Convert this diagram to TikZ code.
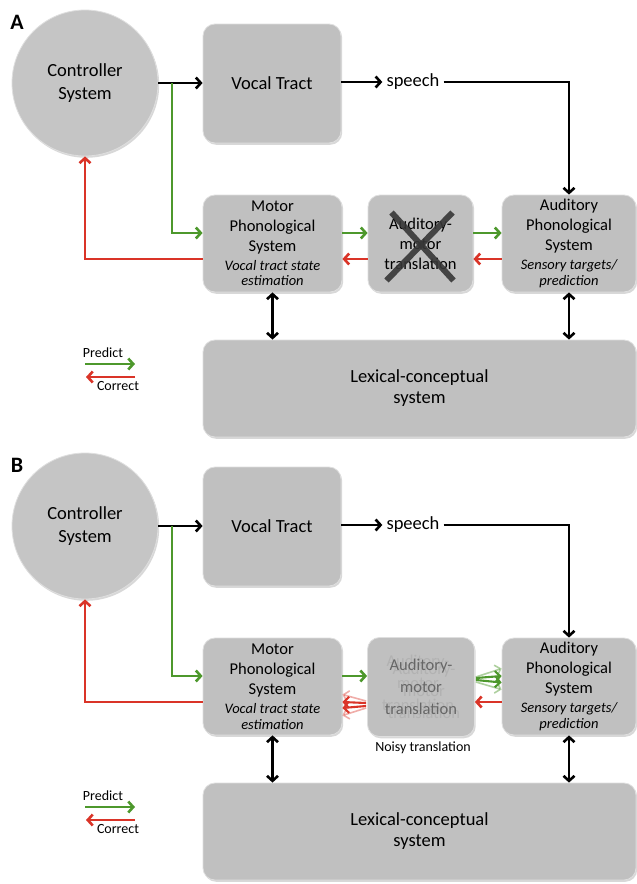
\documentclass[tikz,border=0pt]{standalone}
\usepackage{fontspec}
\setmainfont{Carlito}
\usetikzlibrary{arrows.meta,shadows,calc}
\definecolor{boxgray}{RGB}{192,192,192}
\definecolor{circgray}{RGB}{197,197,197}
\definecolor{pgreen}{RGB}{77,152,44}
\definecolor{pred}{RGB}{218,52,40}
\definecolor{xgray}{RGB}{55,55,55}
\tikzset{
  boxshape/.style={rounded corners=12pt, fill=boxgray, draw=white!75!gray, line width=0.8pt,
    drop shadow={shadow xshift=1.2pt,shadow yshift=-1.8pt,opacity=0.3},
    align=center, inner sep=0pt, font=\fontsize{16.5}{20}\selectfont},
  ctrlshape/.style={circle, fill=circgray, draw=white!75!gray, line width=0.8pt,
    drop shadow={shadow xshift=1.2pt,shadow yshift=-1.8pt,opacity=0.3},
    minimum size=146pt, inner sep=0pt, align=center, font=\fontsize{18.5}{23}\selectfont},
  bigtxt/.style={font=\fontsize{18.5}{22}\selectfont, align=center},
  smalltxt/.style={font=\fontsize{14}{16}\selectfont, align=center},
  tip/.style={-{Straight Barb[length=5pt,width=11pt]}},
  blk/.style={tip, line width=2.6pt, black},
  dbl/.style={{Straight Barb[length=5pt,width=11pt]}-{Straight Barb[length=5pt,width=11pt]}, line width=2.6pt, black},
  grn/.style={tip, line width=2.6pt, pgreen},
  rd/.style={tip, line width=2.6pt, pred},
  amtext/.style={font=\fontsize{16.5}{22}\selectfont, align=center},
}
\newcommand{\itl}[1]{{\fontsize{14.5}{15.5}\selectfont\itshape #1}}
\newcommand{\panelbase}[2]{%
  \node[font=\bfseries\fontsize{22}{26}\selectfont] (#1lab) at (17,22) {#2};
  \node[ctrlshape] (#1ctrl) at (85,83) {Controller\\System};
  \node[boxshape, minimum width=138pt, minimum height=119pt, font=\fontsize{18.5}{22}\selectfont] (#1vt) at (272,83.5) {Vocal Tract};
  \node[bigtxt, inner sep=4pt] (#1sp) at (413,82) {speech};
  \node[boxshape, minimum width=139pt, minimum height=97pt] (#1motor) at (272.5,243.5)
     {Motor\\Phonological\\System\\[-1pt]\itl{Vocal tract state}\\[-4.5pt]\itl{estimation}};
  \node[boxshape, minimum width=134pt, minimum height=97pt] (#1aud) at (569,243.5)
     {Auditory\\Phonological\\System\\[-1pt]\itl{Sensory targets/}\\[-4.5pt]\itl{prediction}};
  \node[boxshape, minimum width=433pt, minimum height=97pt, font=\fontsize{18.5}{21}\selectfont] (#1lex) at (419.5,388.5)
     {Lexical-conceptual\\system};
  % connectors
  \coordinate (#1br) at (172,83);
  \draw[blk] (#1ctrl.east) -- (#1vt.west |- #1ctrl.east);
  \coordinate (#1mgin) at ($(#1motor.west)+(0,-10.5)$);
  \draw[grn] (#1br) |- (#1mgin);
  \coordinate (#1mred) at ($(#1motor.west)+(0,15.5)$);
  \draw[rd] (#1mred) -| (#1ctrl.south);
  \draw[blk] (#1vt.east |- #1sp.west) -- (#1sp.west);
  \draw[blk] (#1sp.east) -| (#1aud.north);
  \draw[dbl] (#1motor.south) -- (#1motor.south |- #1lex.north);
  \draw[dbl] (#1aud.south) -- (#1aud.south |- #1lex.north);
  % legend
  \node[smalltxt] (#1pred) at (103,353) {Predict};
  \coordinate (#1pg1) at (85,364);
  \coordinate (#1pg2) at (135,364);
  \draw[grn] (#1pg1) -- (#1pg2);
  \coordinate (#1pr1) at (135,377);
  \coordinate (#1pr2) at (86,377);
  \draw[rd] (#1pr1) -- (#1pr2);
  \node[smalltxt] (#1corr) at (118,386) {Correct};
}
\begin{document}
\begin{tikzpicture}[x=1pt,y=-1pt]
\useasboundingbox[fill=white] (0,0) rectangle (637,884);
% ---------------- Panel A
\panelbase{a}{A}
\node[boxshape, minimum width=105pt, minimum height=97pt] (aam) at (420.5,243.5)
   {Auditory-\\motor\\translation};
\draw[xgray, line width=6pt, opacity=0.9] ($(aam.center)+(-29,-31)$) -- ($(aam.center)+(33,37)$);
\draw[xgray, line width=6pt, opacity=0.9] ($(aam.center)+(32,-31)$) -- ($(aam.center)+(-34,37)$);
\coordinate (ag1) at ($(amotor.east)+(0,-10.5)$);
\coordinate (ag2) at ($(aam.east)+(0,-10.5)$);
\draw[grn] (ag1) -- (aam.west |- ag1);
\draw[grn] (ag2) -- (aaud.west |- ag2);
\coordinate (ar1) at ($(aaud.west)+(0,15.5)$);
\coordinate (ar2) at ($(aam.west)+(0,15.5)$);
\draw[rd] (ar1) -- (aam.east |- ar1);
\draw[rd] (ar2) -- (amotor.east |- ar2);
% ---------------- Panel B
\begin{scope}[shift={(0,443)}]
\panelbase{b}{B}
\node[boxshape, minimum width=107pt, minimum height=99pt] (bam) at (421,244) {};
\node[amtext, text=black!30] (bamt1) at ($(bam.center)+(-3,-4)$) {Auditory-\\motor\\translation};
\node[amtext, text=black!30] (bamt2) at ($(bam.center)+(3,4)$) {Auditory-\\motor\\translation};
\node[amtext, text=black!60] (bamt) at (bam.center) {Auditory-\\motor\\translation};
\node[smalltxt] (bnoisy) at (423,305) {Noisy translation};
% green motor -> am
\coordinate (bg1) at ($(bmotor.east)+(0,-10.5)$);
\draw[grn] (bg1) -- (bam.west |- bg1);
% fanned green am -> aud
\coordinate (bgs1) at ($(bam.east)+(1,-10)$);
\coordinate (bgs2) at ($(bam.east)+(1,-9)$);
\coordinate (bgs3) at ($(bam.east)+(1,-7)$);
\coordinate (bgs4) at ($(bam.east)+(1,-5)$);
\coordinate (bge1) at ($(baud.west)+(0,-18)$);
\coordinate (bge2) at ($(baud.west)+(0,-10.5)$);
\coordinate (bge3) at ($(baud.west)+(0,-4)$);
\coordinate (bge4) at ($(baud.west)+(0,3)$);
\draw[grn, line width=1.6pt, opacity=0.45] (bgs1) -- (bge1);
\draw[grn, line width=2.1pt] (bgs2) -- (bge2);
\draw[grn, line width=2.1pt] (bgs3) -- (bge3);
\draw[grn, line width=1.6pt, opacity=0.45] (bgs4) -- (bge4);
% red aud -> am
\coordinate (br1) at ($(baud.west)+(0,15.5)$);
\draw[rd] (br1) -- (bam.east |- br1);
% fanned red am -> motor
\coordinate (brs1) at ($(bam.west)+(-1,14)$);
\coordinate (brs2) at ($(bam.west)+(-1,16)$);
\coordinate (brs3) at ($(bam.west)+(-1,19)$);
\coordinate (brs4) at ($(bam.west)+(-1,21)$);
\coordinate (bre1) at ($(bmotor.east)+(0,8)$);
\coordinate (bre2) at ($(bmotor.east)+(0,15.5)$);
\coordinate (bre3) at ($(bmotor.east)+(0,21.5)$);
\coordinate (bre4) at ($(bmotor.east)+(0,29)$);
\draw[rd, line width=1.6pt, opacity=0.4] (brs1) -- (bre1);
\draw[rd, line width=2.1pt] (brs2) -- (bre2);
\draw[rd, line width=2.1pt] (brs3) -- (bre3);
\draw[rd, line width=1.6pt, opacity=0.4] (brs4) -- (bre4);
\end{scope}
\end{tikzpicture}
\end{document}
